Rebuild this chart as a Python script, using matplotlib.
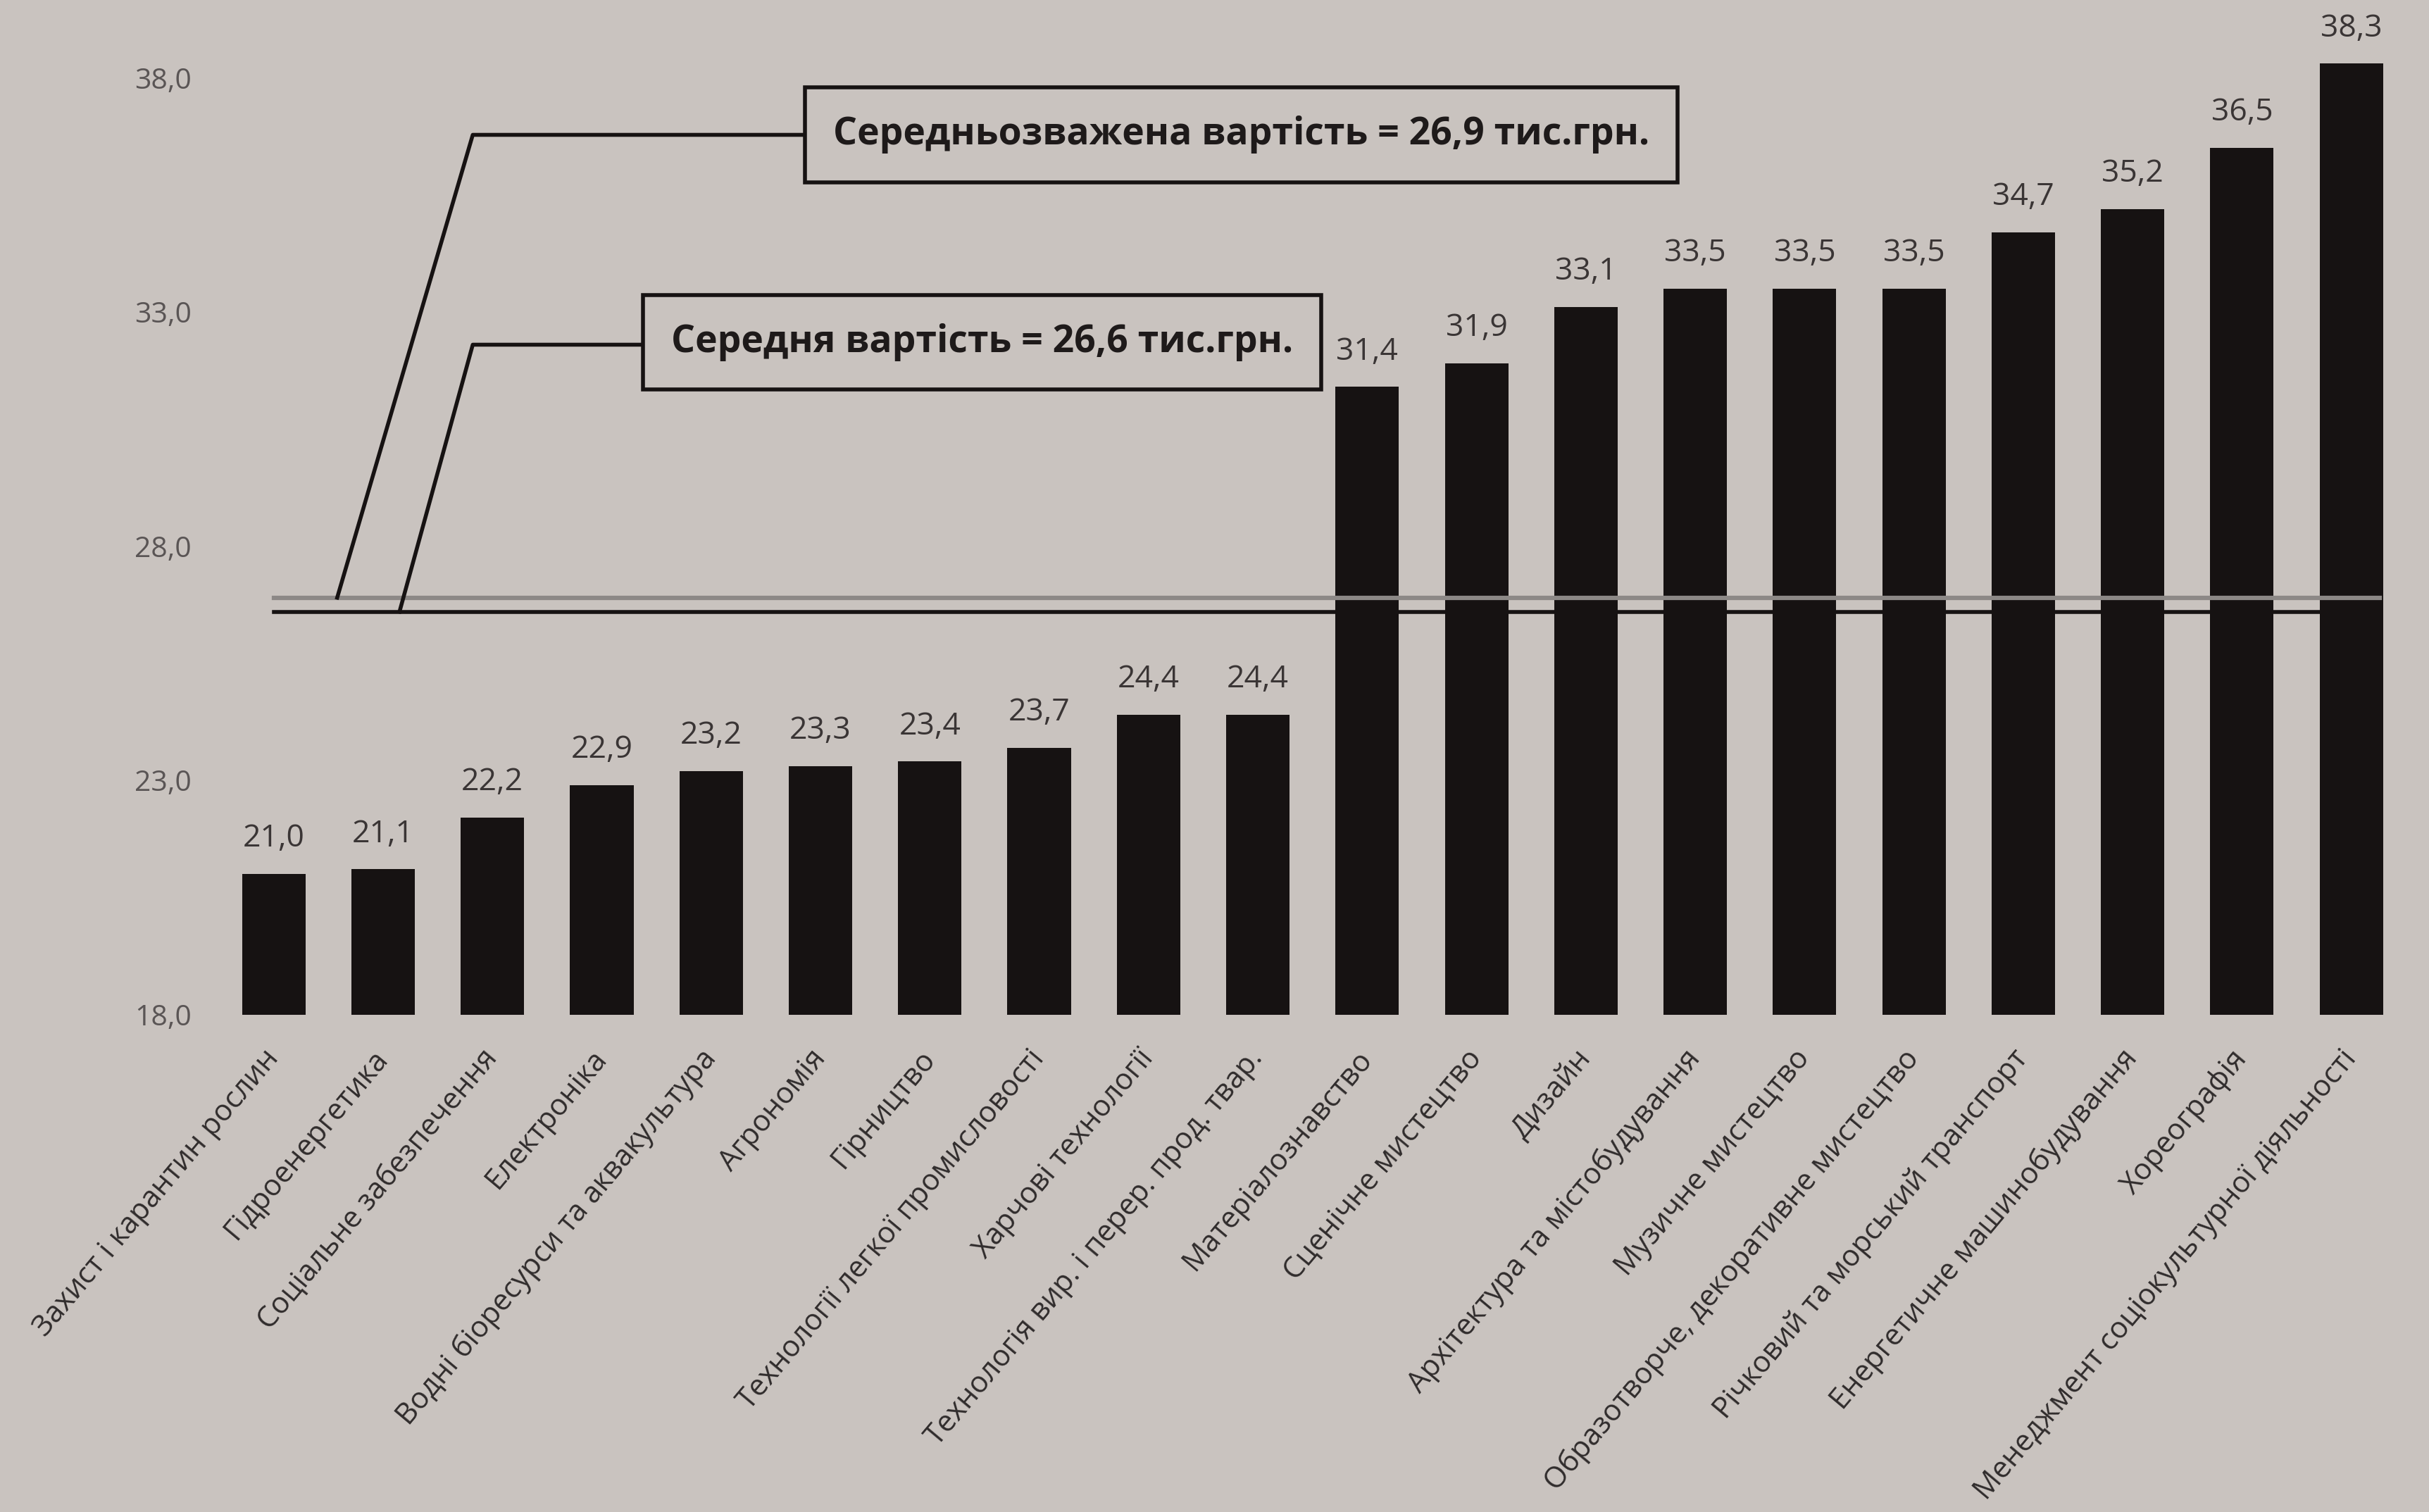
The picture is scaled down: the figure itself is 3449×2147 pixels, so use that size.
import numpy as np
import matplotlib.pyplot as plt

categories = [
    "Захист і карантин рослин",
    "Гідроенергетика",
    "Соціальне забезпечення",
    "Електроніка",
    "Водні біоресурси та аквакультура",
    "Агрономія",
    "Гірництво",
    "Технології легкої промисловості",
    "Харчові технології",
    "Технологія вир. і перер. прод. твар.",
    "Матеріалознавство",
    "Сценічне мистецтво",
    "Дизайн",
    "Архітектура та містобудування",
    "Музичне мистецтво",
    "Образотворче, декоративне мистецтво",
    "Річковий та морський транспорт",
    "Енергетичне машинобудування",
    "Хореографія",
    "Менеджмент соціокультурної діяльності",
]
values = [21.0, 21.1, 22.2, 22.9, 23.2, 23.3, 23.4, 23.7, 24.4, 24.4,
          31.4, 31.9, 33.1, 33.5, 33.5, 33.5, 34.7, 35.2, 36.5, 38.3]
weighted_mean = 26.9
simple_mean = 26.6
y_ticks = [18, 23, 28, 33, 38]
weighted_text = "Середньозважена вартість = 26,9 тис.грн."
mean_text = "Середня вартість = 26,6 тис.грн."

bg = "#c9c3bf"
ink = "#161212"
plt.rcParams['font.family'] = ['Open Sans', 'DejaVu Sans']


def comma(v):
    return f"{v:.1f}".replace(".", ",")


fig = plt.figure(figsize=(34.49, 21.47), dpi=100, facecolor=bg)
ax = fig.add_axes([0.0893, 0.329, 0.9057, 0.632])
ax.set_facecolor(bg)

x = np.arange(len(values))
ax.bar(x, values, width=0.58, color=ink, zorder=2)

for xi, v in zip(x, values):
    ax.annotate(comma(v), (xi, v), xytext=(0, 20), textcoords="offset points",
                ha="center", va="bottom", fontsize=32, color="#3a3535",
                annotation_clip=False)

# average lines
ax.plot([0, len(values) - 0.74], [weighted_mean] * 2, color="#8c8886", lw=4.5, zorder=4)
ax.plot([0, len(values) - 1], [simple_mean] * 2, color=ink, lw=4, zorder=4)

# callouts
ax.plot([0.58, 1.82, 8.9], [weighted_mean, 36.78, 36.78], color=ink, lw=4,
        zorder=5, clip_on=False)
ax.plot([1.15, 1.82, 6.5], [simple_mean, 32.3, 32.3], color=ink, lw=4,
        zorder=5, clip_on=False)
box = dict(boxstyle="square,pad=0.75", facecolor=bg, edgecolor=ink, linewidth=4)
ax.text(8.85, 36.78, weighted_text, ha="center", va="center", fontsize=38.5,
        fontweight="bold", color="#1e1a1a", bbox=box, zorder=6)
ax.text(6.48, 32.35, mean_text, ha="center", va="center", fontsize=38.5,
        fontweight="bold", color="#1e1a1a", bbox=box, zorder=6)

ax.set_xlim(-0.52, 19.6)
ax.set_ylim(18, 38.4)
ax.set_yticks(y_ticks)
ax.set_yticklabels([comma(t) for t in y_ticks])
ax.tick_params(axis="y", length=0, pad=26, labelsize=29.5, labelcolor="#5a5555")
ax.set_xticks(x)
ax.set_xticklabels(categories, rotation=50, ha="right", va="center",
                   rotation_mode="anchor", fontsize=30, color="#302c2c")
ax.tick_params(axis="x", length=0, pad=40)
for s in ax.spines.values():
    s.set_visible(False)

fig.savefig("out.png", dpi=100, facecolor=bg)
